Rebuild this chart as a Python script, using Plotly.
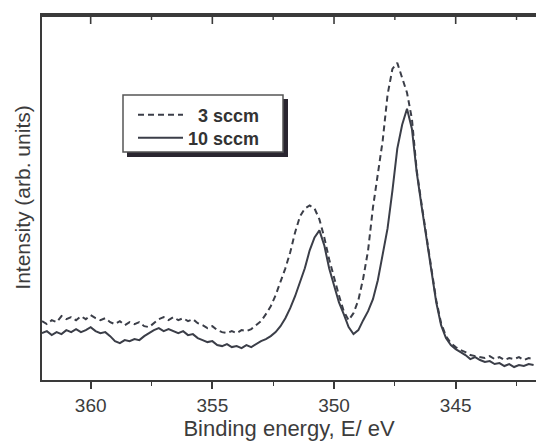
import numpy as np
import plotly.graph_objects as go

# Binding energy grid (eV), 362.0 -> 341.8 in 0.2 eV steps
energy = np.round(np.arange(362.0, 341.75, -0.2), 1)

# 10 sccm (solid line), arb. units
sccm10 = [
    47, 49, 45, 48, 46, 50, 48, 51, 48, 50,
    53, 49, 47, 48, 44, 39, 37, 40, 39, 41,
    40, 44, 47, 50, 52, 49, 51, 49, 47, 49,
    45, 46, 42, 40, 38, 39, 35, 34, 36, 33,
    34, 32, 35, 33, 36, 39, 41, 44, 48, 54,
    62, 72, 84, 97, 112, 130, 143, 150, 135, 112,
    94, 78, 66, 53, 46, 50, 60, 69, 81, 100,
    126, 152, 190, 232, 256, 272, 252, 208, 174, 142,
    108, 78, 55, 42, 35, 31, 28, 25, 21, 23,
    20, 18, 19, 16, 17, 14, 16, 13, 15, 14,
    16, 15,
]

# 3 sccm (dashed line), arb. units
sccm3 = [
    59, 56, 60, 58, 64, 61, 63, 60, 64, 61,
    65, 62, 60, 62, 58, 56, 59, 55, 58, 56,
    58, 54, 53, 57, 61, 63, 60, 63, 60, 62,
    59, 61, 57, 55, 52, 54, 50, 48, 47, 49,
    47, 50, 49, 51, 55, 59, 66, 74, 85, 98,
    112, 128, 148, 164, 172, 175, 172, 161, 143, 121,
    102, 85, 69, 60, 67, 80, 102, 130, 173, 208,
    240, 286, 312, 318, 304, 288, 262, 210, 176, 144,
    110, 80, 57, 44, 37, 33, 30, 28, 25, 24,
    23, 22, 24, 21, 23, 20, 22, 21, 23, 20,
    22, 21,
]

major_ticks = [360, 355, 350, 345]
major_labels = ["360", "355", "350", "345"]
minor_ticks = [357.5, 352.5, 347.5, 342.5]
x_range = [362.0, 341.7]
y_range = [0, 366]

line_col = "#3b3e48"
axis_col = "#3a3a3a"
text_col = "#3c3c3c"
font_family = "Liberation Sans, Arial, sans-serif"

fig = go.Figure()
fig.add_trace(go.Scatter(
    x=energy, y=sccm3, mode="lines", name="\u20073 sccm", legend="legend",
    line=dict(color=line_col, width=2, dash="6px,4px"),
))
fig.add_trace(go.Scatter(
    x=energy, y=sccm10, mode="lines", name="10 sccm", legend="legend2",
    line=dict(color=line_col, width=2),
))

W, H = 536, 443
L, R, T, B = 42, 0, 15, 63
pw, ph = W - L - R, H - T - B

def px(xp):
    return (xp - L) / pw

def py(yp):
    return (H - B - yp) / ph

# top frame line with inward ticks (mirror of the energy axis), drawn 1 px inside
top = 1 - 1.0 / ph
fig.add_shape(type="line", xref="paper", yref="paper", x0=0, x1=1, y0=top, y1=top,
              line=dict(color=axis_col, width=2), layer="above")
for tv in major_ticks:
    fig.add_shape(type="line", xref="x", yref="paper", x0=tv, x1=tv,
                  y0=top, y1=top - 8 / ph, line=dict(color=axis_col, width=1.6),
                  layer="above")
for tv in minor_ticks:
    fig.add_shape(type="line", xref="x", yref="paper", x0=tv, x1=tv,
                  y0=top, y1=top - 4 / ph, line=dict(color=axis_col, width=1.4),
                  layer="above")

# legend frame with drop shadow
fig.add_shape(type="rect", xref="paper", yref="paper",
              x0=px(127), x1=px(288), y0=py(157), y1=py(99),
              fillcolor="#2a2630", line=dict(width=0), layer="above")
fig.add_shape(type="rect", xref="paper", yref="paper",
              x0=px(123), x1=px(283), y0=py(152), y1=py(95),
              fillcolor="white", line=dict(color="#555", width=1.5), layer="above")

leg_common = dict(
    xanchor="left", yanchor="middle",
    bgcolor="rgba(0,0,0,0)", borderwidth=0,
    font=dict(size=18, family=font_family, color="#333", weight="bold"),
    itemwidth=45,
)

fig.update_layout(
    template="none",
    width=W, height=H,
    margin=dict(l=L, r=R, t=T, b=B, pad=0),
    paper_bgcolor="white", plot_bgcolor="white",
    font=dict(family=font_family, color=text_col),
    showlegend=True,
    legend=dict(x=px(133), y=py(115), **leg_common),
    legend2=dict(x=px(133), y=py(138), **leg_common),
    xaxis=dict(
        range=x_range, autorange=False,
        tickmode="array", tickvals=major_ticks, ticktext=major_labels,
        ticks="outside", ticklen=7, tickwidth=1.6, tickcolor=axis_col,
        minor=dict(tickmode="array", tickvals=minor_ticks, ticks="outside",
                   ticklen=4, tickwidth=1.4, tickcolor=axis_col),
        showline=True, linecolor=axis_col, linewidth=2, mirror=True,
        showgrid=False, zeroline=False,
        tickfont=dict(size=19, color=text_col),
        title=dict(text="Binding energy, E/ eV", font=dict(size=22, color=text_col),
                   standoff=4),
        automargin=False,
    ),
    yaxis=dict(
        range=y_range, autorange=False,
        showticklabels=False, ticks="",
        showline=True, linecolor=axis_col, linewidth=2,
        showgrid=False, zeroline=False,
        title=dict(text="Intensity (arb. units)", font=dict(size=21, color=text_col),
                   standoff=4),
        automargin=False,
    ),
)

fig.write_html("out.html")
